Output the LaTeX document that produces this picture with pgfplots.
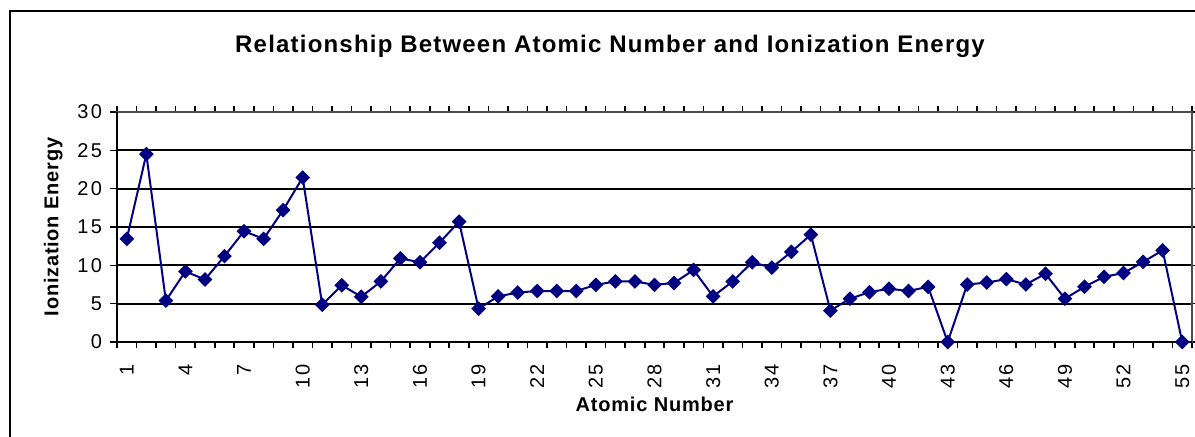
\documentclass[border=0pt]{standalone}
\usepackage{fontspec}
\setmainfont{Liberation Sans}
\newfontfamily\titlefont[LetterSpace=5]{Liberation Sans}
\newfontfamily\labfont[LetterSpace=4]{Liberation Sans}
\newfontfamily\tickfont[LetterSpace=12]{Liberation Sans}
\usepackage{pgfplots}
\pgfplotsset{compat=1.18}
\definecolor{navy}{RGB}{0,0,128}
\begin{document}
\begin{tikzpicture}
\path[use as bounding box] (0pt,0pt) rectangle (597.5pt,218.5pt);
\draw[line width=0.8pt] (5pt,0pt) -- (5pt,213pt) -- (597.5pt,213pt);
\node[anchor=base, font=\titlefont\bfseries\fontsize{12}{14}\selectfont] at (305pt,192pt) {Relationship Between Atomic Number and Ionization Energy};
\begin{axis}[
  at={(58.5pt,47.5pt)}, anchor=south west,
  scale only axis, width=537.5pt, height=115pt,
  xmin=0.5, xmax=55.5, ymin=0, ymax=30,
  ytick={0,5,...,30},
  xtick={1,4,...,55},
  minor xtick={0.5,1.5,...,55.5},
  major x tick style={draw=none},
  minor x tick style={black, line width=0.8pt},
  major y tick style={black, line width=0.8pt},
  tick align=outside,
  major tick length=3.5pt,
  minor tick length=2.8pt,
  ymajorgrids,
  major grid style={black, line width=1pt},
  axis line style={draw=gray!60!black, line width=0.8pt},
  /pgf/number format/assume math mode=true,
  tick label style={font=\tickfont\fontsize{10}{11}\selectfont},
  xticklabel style={rotate=90, anchor=east, xshift=-4pt},
  yticklabel style={xshift=-0.5pt},
  xlabel={Atomic Number},
  ylabel={Ionization Energy},
  label style={font=\labfont\bfseries\fontsize{10}{12}\selectfont},
  xlabel style={at={(axis description cs:0.5,0)}, anchor=base, yshift=-35pt},
  ylabel style={at={(axis description cs:0,0.5)}, anchor=base, yshift=29.3pt},
  clip=false,
]
\draw[black, line width=1pt] (rel axis cs:0,1) -- (rel axis cs:0,0) -- (rel axis cs:1,0);
\addplot[navy, line width=1pt, mark=square*, mark size=2.1pt, mark options={rotate=45, solid, fill=navy}] coordinates {
(1,13.45) (2,24.5) (3,5.39) (4,9.2) (5,8.15) (6,11.2) (7,14.45) (8,13.45) (9,17.2) (10,21.45)
(11,4.85) (12,7.4) (13,5.9) (14,7.9) (15,10.9) (16,10.4) (17,12.95) (18,15.7) (19,4.35) (20,5.95)
(21,6.45) (22,6.65) (23,6.65) (24,6.65) (25,7.45) (26,7.9) (27,7.9) (28,7.45) (29,7.7) (30,9.4)
(31,5.95) (32,7.9) (33,10.4) (34,9.7) (35,11.75) (36,14.0) (37,4.1) (38,5.65) (39,6.5) (40,6.95)
(41,6.65) (42,7.2) (43,0) (44,7.5) (45,7.75) (46,8.2) (47,7.5) (48,8.9) (49,5.65) (50,7.2)
(51,8.5) (52,9.0) (53,10.45) (54,11.95) (55,0)
};
\end{axis}
\end{tikzpicture}
\end{document}
